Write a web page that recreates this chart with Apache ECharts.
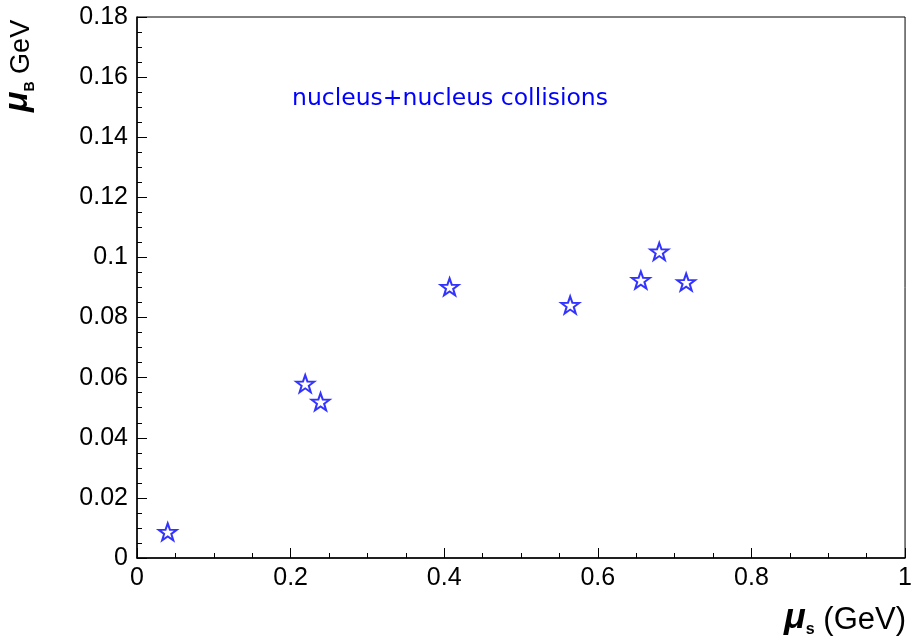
<!DOCTYPE html>
<html>
<head>
<meta charset="utf-8">
<script src="https://cdn.jsdelivr.net/npm/echarts@6/dist/echarts.min.js"></script>
<style>html,body{margin:0;padding:0;background:#fff}#c{width:915px;height:642px}</style>
</head>
<body>
<div id="c"></div>
<script>
// Data
const muS = [0.040, 0.219, 0.239, 0.407, 0.564, 0.656, 0.680, 0.715];
const muB = [0.0087, 0.0580, 0.0520, 0.0902, 0.0842, 0.0925, 0.1020, 0.0918];
const xTicks = [0, 0.2, 0.4, 0.6, 0.8, 1];
const yTicks = [0, 0.02, 0.04, 0.06, 0.08, 0.1, 0.12, 0.14, 0.16, 0.18];
const annotation = 'nucleus+nucleus collisions';

const points = muS.map((x, i) => [x, muB[i]]);
const star = 'path://M0,-10L2.35,-3.24L9.51,-3.09L3.8,1.24L5.88,8.09L0,4L-5.88,8.09L-3.8,1.24L-9.51,-3.09L-2.35,-3.24Z';
const FONT = 'Liberation Sans, Arial, sans-serif';

const chart = echarts.init(document.getElementById('c'), null, {renderer: 'canvas'});
chart.setOption({
  animation: false,
  backgroundColor: '#fff',
  grid: {left: 137, right: 7, top: 17, bottom: 84, show: true, borderColor: '#000', borderWidth: 1, containLabel: false},
  xAxis: {
    type: 'value', min: xTicks[0], max: xTicks[xTicks.length - 1], interval: 0.2,
    axisLine: {show: true, onZero: false, lineStyle: {color: '#000', width: 1.5}},
    axisTick: {show: true, inside: true, length: 10, lineStyle: {color: '#000', width: 1}},
    minorTick: {show: true, splitNumber: 4, length: 5, lineStyle: {color: '#000', width: 1}},
    splitLine: {show: false},
    axisLabel: {color: '#000', fontFamily: FONT, fontSize: 25, margin: 8,
      formatter: v => String(+v.toFixed(2))}
  },
  yAxis: {
    type: 'value', min: yTicks[0], max: yTicks[yTicks.length - 1], interval: 0.02,
    axisLine: {show: true, onZero: false, lineStyle: {color: '#000', width: 1.5}},
    axisTick: {show: true, inside: true, length: 10, lineStyle: {color: '#000', width: 1}},
    minorTick: {show: true, splitNumber: 4, length: 5, lineStyle: {color: '#000', width: 1}},
    splitLine: {show: false},
    axisLabel: {color: '#000', fontFamily: FONT, fontSize: 25, margin: 9,
      formatter: v => String(+v.toFixed(2))}
  },
  series: [{
    type: 'scatter',
    data: points,
    symbol: star,
    symbolSize: [18, 17],
    itemStyle: {color: '#fff', borderColor: '#0000ff', borderWidth: 2}
  }],
  graphic: [
    {
      type: 'text', left: 292, top: 87,
      style: {text: annotation, fill: '#0000ff', font: '23.5px DejaVu Sans, sans-serif'}
    },
    {
      type: 'text', x: 906, y: 636,
      style: {
        text: '{mu|μ}{sub|s}{n| (GeV)}',
        textAlign: 'right',
        textVerticalAlign: 'bottom',
        rich: {
          mu: {fontFamily: FONT, fontStyle: 'italic', fontWeight: 'bold', fontSize: 36, fill: '#000', verticalAlign: 'bottom'},
          sub: {fontFamily: FONT, fontWeight: 'bold', fontSize: 16, fill: '#000', verticalAlign: 'bottom', padding: [0, 0, -2, 0]},
          n: {fontFamily: FONT, fontSize: 31, fill: '#000', verticalAlign: 'bottom'}
        }
      }
    },
    {
      type: 'text', x: 35, y: 112, rotation: Math.PI / 2,
      style: {
        text: '{mu|μ}{sub|B}{n| GeV}',
        textVerticalAlign: 'bottom',
        rich: {
          mu: {fontFamily: FONT, fontStyle: 'italic', fontWeight: 'bold', fontSize: 34, fill: '#000', verticalAlign: 'bottom'},
          sub: {fontFamily: FONT, fontWeight: 'bold', fontSize: 14, fill: '#000', verticalAlign: 'bottom', padding: [0, 0, -2, 0]},
          n: {fontFamily: FONT, fontSize: 27, fill: '#000', verticalAlign: 'bottom'}
        }
      }
    }
  ]
});
</script>
</body>
</html>
